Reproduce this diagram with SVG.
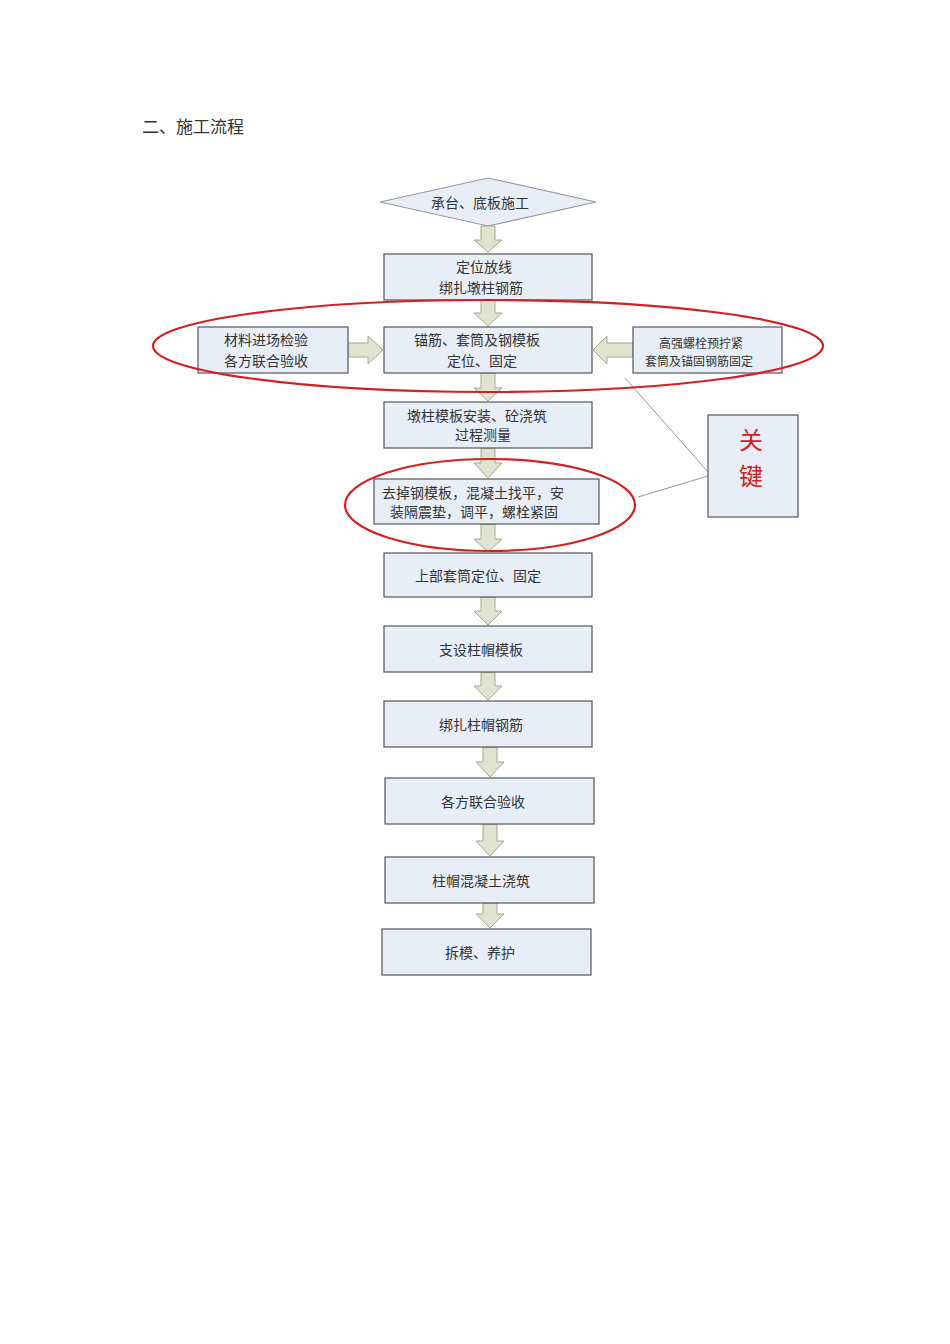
<svg xmlns="http://www.w3.org/2000/svg" width="950" height="1344" viewBox="0 0 950 1344">
<style>
text{font-family:"Liberation Serif","Noto Sans CJK SC",serif;font-size:14px;fill:#333;text-anchor:middle}
.b{fill:#e8eef8;stroke:#555;stroke-width:1.2}
.a{fill:#dfe3cf;stroke:#a3aa90;stroke-width:1}
.e{fill:none;stroke:#d42020;stroke-width:2.2}
</style>
<rect width="950" height="1344" fill="#fff"/>
<text x="142" y="133" style="text-anchor:start;font-size:17px">二、施工流程</text>
<g id="connectors">
<path class="a" d="M481,226V240H474L488,252L502,240H495V226Z"/>
<path class="a" d="M481,300V313H474L488,326L502,313H495V300Z"/>
<path class="a" d="M481,373V388H474L488,401L502,388H495V373Z"/>
<path class="a" d="M481,448V463H474L488,478L502,463H495V448Z"/>
<path class="a" d="M481,524V539H474L488,552L502,539H495V524Z"/>
<path class="a" d="M481,597V611H474L488,625L502,611H495V597Z"/>
<path class="a" d="M481,672V686H474L488,700L502,686H495V672Z"/>
<path class="a" d="M483,747V762H476L490,777L504,762H497V747Z"/>
<path class="a" d="M483,824V841H476L490,856L504,841H497V824Z"/>
<path class="a" d="M483,903V914H476L490,928L504,914H497V903Z"/>
<path class="a" d="M348,343H368V336L383,350L368,364V357H348Z"/>
<path class="a" d="M633,343H607V336L593,350L607,364V357H633Z"/>
<path d="M625,378L708,472M638,497L708,476" stroke="#999" stroke-width="1" fill="none"/>
</g>
<g id="start"><polygon class="b" points="380,202 488,178 596,202 488,226" style="stroke:#999"/><text x="480" y="208">承台、底板施工</text></g>
<g id="n1"><rect class="b" x="384" y="254" width="208" height="46"/><text x="484" y="272">定位放线</text><text x="481" y="293">绑扎墩柱钢筋</text></g>
<g id="nL"><rect class="b" x="198" y="327" width="150" height="46"/><text x="266" y="345">材料进场检验</text><text x="266" y="366">各方联合验收</text></g>
<g id="nC"><rect class="b" x="384" y="327" width="208" height="46"/><text x="477" y="345">锚筋、套筒及钢模板</text><text x="482" y="366">定位、固定</text></g>
<g id="nR"><rect class="b" x="633" y="327" width="149" height="46"/><text x="701" y="348" style="font-size:12px">高强螺栓预拧紧</text><text x="699" y="366" style="font-size:12px">套筒及锚固钢筋固定</text></g>
<g id="n3"><rect class="b" x="384" y="402" width="208" height="46"/><text x="477" y="421">墩柱模板安装、砼浇筑</text><text x="483" y="440">过程测量</text></g>
<g id="n4"><rect class="b" x="374" y="479" width="225" height="45"/><text x="473" y="498">去掉钢模板，混凝土找平，安</text><text x="474" y="517">装隔震垫，调平，螺栓紧固</text></g>
<g id="n5"><rect class="b" x="384" y="553" width="208" height="44"/><text x="478" y="581">上部套筒定位、固定</text></g>
<g id="n6"><rect class="b" x="384" y="626" width="208" height="46"/><text x="481" y="655">支设柱帽模板</text></g>
<g id="n7"><rect class="b" x="384" y="701" width="208" height="46"/><text x="481" y="730">绑扎柱帽钢筋</text></g>
<g id="n8"><rect class="b" x="385" y="778" width="209" height="46"/><text x="483" y="807">各方联合验收</text></g>
<g id="n9"><rect class="b" x="385" y="857" width="209" height="46"/><text x="481" y="886">柱帽混凝土浇筑</text></g>
<g id="n10"><rect class="b" x="382" y="929" width="209" height="46"/><text x="480" y="958">拆模、养护</text></g>
<g id="key"><rect class="b" x="708" y="415" width="90" height="102"/><text x="751" y="449" style="font-size:24px;fill:#d42020">关</text><text x="751" y="485" style="font-size:24px;fill:#d42020">键</text></g>
<g id="highlights">
<ellipse class="e" cx="488" cy="346" rx="335" ry="46"/>
<ellipse class="e" cx="490" cy="505" rx="145" ry="46"/>
</g>
</svg>
